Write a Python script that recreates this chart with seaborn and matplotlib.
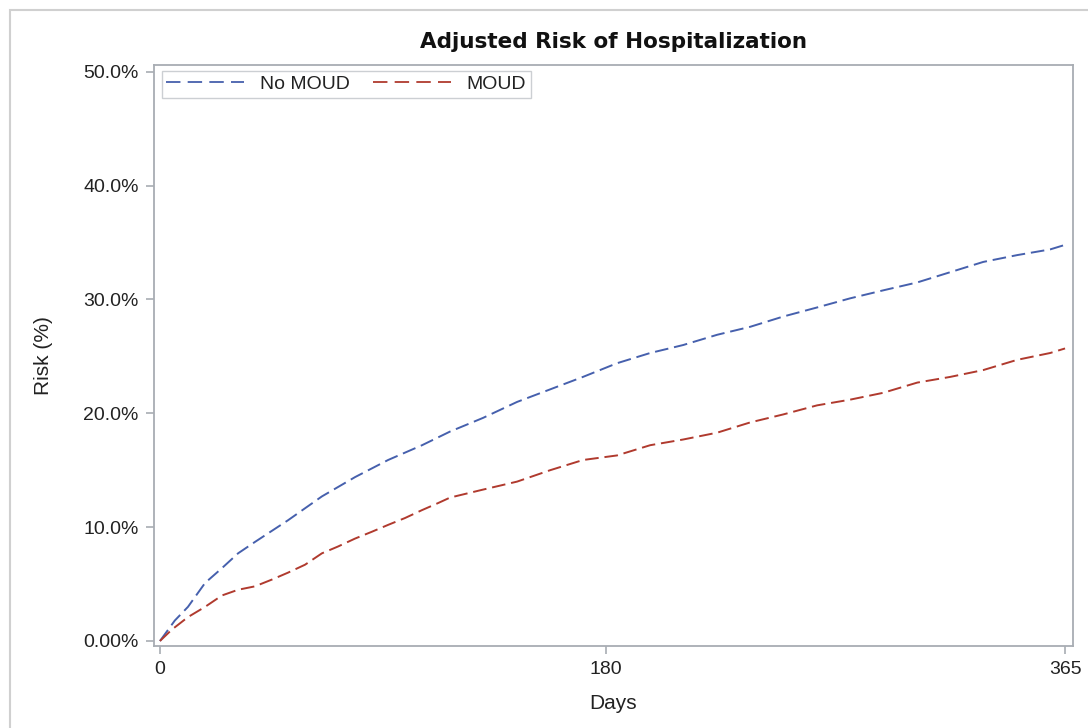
import matplotlib
matplotlib.use("Agg")
import matplotlib.pyplot as plt
import seaborn as sns
import pandas as pd
from matplotlib.patches import Rectangle
from matplotlib.lines import Line2D

# ---- data ----
days_no_moud = [0, 6, 11.3, 18.2, 25, 31.5, 38.3, 51.6, 65.3, 78.7, 92, 105.7, 117, 130.3,
                144, 157.3, 170.6, 184.3, 197.7, 211, 224.7, 238, 251.3, 265, 278.3, 291.6,
                305.4, 318.7, 332, 345.7, 359, 365]
risk_no_moud = [0.0, 1.8, 3.0, 5.1, 6.4, 7.7, 8.7, 10.6, 12.7, 14.4, 15.9, 17.2, 18.4, 19.6,
                21.0, 22.1, 23.2, 24.4, 25.3, 26.0, 26.9, 27.6, 28.5, 29.3, 30.1, 30.8,
                31.5, 32.4, 33.3, 33.9, 34.4, 34.8]

days_moud = [0, 4.8, 11.3, 18.2, 25, 31.5, 38.3, 45.2, 51.6, 58.5, 65.3, 71.8, 78.7, 85.5,
             92, 98.8, 105.7, 112, 117, 130.3, 144, 157.3, 170.6, 184.3, 197.7, 211,
             224.7, 238, 251.3, 265, 278.3, 291.6, 305.4, 318.7, 332, 345.7, 359, 365]
risk_moud = [0.0, 1.0, 2.1, 3.0, 4.0, 4.5, 4.8, 5.4, 6.0, 6.7, 7.7, 8.3, 9.0, 9.6,
             10.2, 10.8, 11.5, 12.1, 12.6, 13.3, 14.0, 15.0, 15.9, 16.3, 17.2, 17.7,
             18.3, 19.2, 19.9, 20.7, 21.2, 21.8, 22.7, 23.2, 23.8, 24.7, 25.3, 25.7]

groups = ["No MOUD", "MOUD"]
x_ticks = [0, 180, 365]
y_ticks = [0, 10, 20, 30, 40, 50]
y_tick_labels = ["0.00%", "10.0%", "20.0%", "30.0%", "40.0%", "50.0%"]

df = pd.concat([
    pd.DataFrame({"Days": days_no_moud, "Risk": risk_no_moud, "Group": groups[0]}),
    pd.DataFrame({"Days": days_moud, "Risk": risk_moud, "Group": groups[1]}),
], ignore_index=True)

sns.set_style("white")
plt.rcParams["font.family"] = ["Liberation Sans", "DejaVu Sans"]

fig = plt.figure(figsize=(10.88, 7.28), dpi=100)
ax = fig.add_axes([154 / 1088, 1 - 646 / 728, (1073 - 154) / 1088, (646 - 65) / 728])

palette = {"No MOUD": "#4660ad", "MOUD": "#b03a2e"}
sns.lineplot(data=df, x="Days", y="Risk", hue="Group", style="Group",
             palette=palette, dashes={"No MOUD": (7, 3), "MOUD": (7, 3)},
             linewidth=1.4, ax=ax, legend=False, estimator=None, sort=False)

ax.set_xlim(-2.4, 368.2)
ax.set_ylim(-0.44, 50.6)
ax.set_xticks(x_ticks)
ax.set_xticklabels([str(t) for t in x_ticks])
ax.set_yticks(y_ticks)
ax.set_yticklabels(y_tick_labels)

gray = "#a8adb3"
for s in ax.spines.values():
    s.set_color(gray)
    s.set_linewidth(1.3)
ax.tick_params(axis="both", which="both", direction="out", length=6, width=1.2,
               color=gray, labelsize=14, labelcolor="#222222", pad=5,
               bottom=True, left=True)

ax.set_xlabel("Days", fontsize=15, color="#222222", labelpad=11)
ax.set_ylabel("Risk (%)", fontsize=15, color="#222222", labelpad=22)
ax.set_title("Adjusted Risk of Hospitalization", fontsize=15.5, fontweight="bold",
             family=["DejaVu Sans"], color="#111111", pad=12)

handles = [Line2D([0], [0], color=palette[g], lw=1.3, dashes=(8, 4)) for g in groups]
leg = ax.legend(handles, groups, loc="upper left", ncol=2, frameon=True,
                fontsize=14, handlelength=4.0, handletextpad=0.8, columnspacing=1.2,
                borderaxespad=0.2, borderpad=0.25, fancybox=False,
                bbox_to_anchor=(0.004, 0.997))
leg.get_frame().set_edgecolor("#c0c4c8")
leg.get_frame().set_linewidth(1.0)
for t in leg.get_texts():
    t.set_color("#222222")

# outer frame of the graph
fig.patches.append(Rectangle((10 / 1088, -0.05), 1.2, 1 - 10 / 728 + 0.05,
                             transform=fig.transFigure, fill=False,
                             edgecolor="#d0d0d0", linewidth=1.5, clip_on=False))

fig.savefig("out.png", dpi=100)
